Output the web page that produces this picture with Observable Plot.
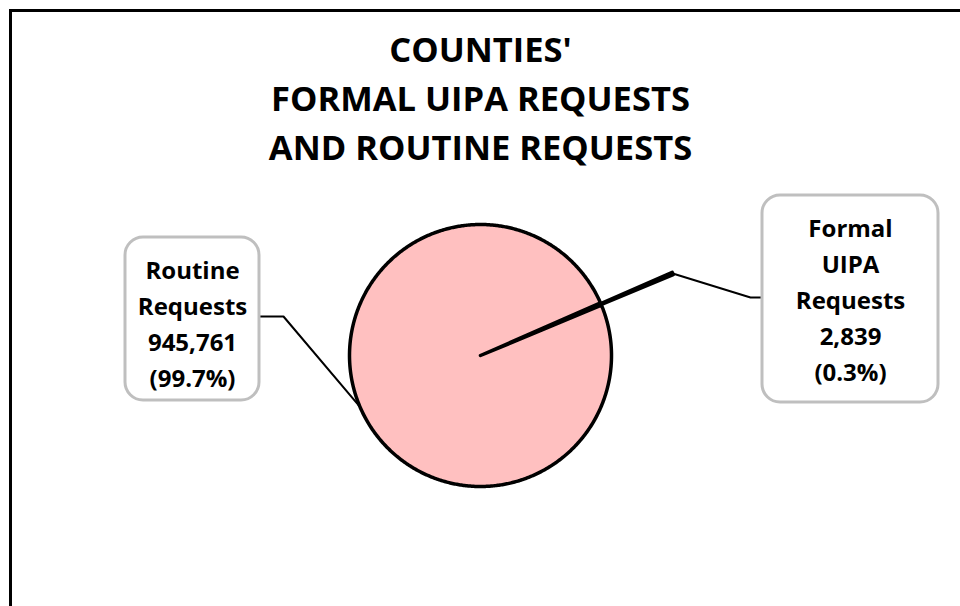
<!DOCTYPE html>
<html><head><meta charset="utf-8">
<script src="https://cdn.jsdelivr.net/npm/d3@7"></script>
<script src="https://cdn.jsdelivr.net/npm/@observablehq/plot@0.6"></script>
<style>html,body{margin:0;padding:0;background:#fff;overflow:hidden}</style>
</head><body><div id="chart"></div>
<script>
// ---- data ----
const titleLines = ["COUNTIES'", "FORMAL UIPA REQUESTS", "AND ROUTINE REQUESTS"];
const categories = ["Formal UIPA Requests", "Routine Requests"];
const labelLines = [["Formal", "UIPA", "Requests"], ["Routine", "Requests"]];
const counts = [2839, 945761];

// ---- layout (pixel units, origin at pie centre, y up) ----
const W = 960, H = 606;
const cx = 480, cy = 355;
const R = 131;
const explode = [78, 0];
const smallMidDeg = 66.9;
const FONT = '"Open Sans", sans-serif';
const boxLayout = [
  {x1: 282, x2: 458, y1: -47, y2: 160, tx: 370, ty: 58, elbow: [270, 58], edge: [282, 58]},
  {x1: -355, x2: -221, y1: -45, y2: 118, tx: -288, ty: 34, elbow: [-197, 39], edge: [-221, 39]}
];

const total = d3.sum(counts);
const fmtN = d3.format(",");
const fmtP = d3.format(".1%");
const halfSmall = Math.PI * counts[0] / total;
const start = smallMidDeg * Math.PI / 180 - halfSmall;
const arcs = d3.pie().sort(null).value(d => d).startAngle(start).endAngle(start + 2 * Math.PI)(counts);

const polys = [];
const leaders = [];
arcs.forEach((a, i) => {
  const m = (a.startAngle + a.endAngle) / 2;
  const ox = explode[i] * Math.sin(m), oy = explode[i] * Math.cos(m);
  polys.push({x: ox, y: oy, i});
  const n = Math.max(4, Math.ceil((a.endAngle - a.startAngle) / (Math.PI / 360)));
  for (let k = 0; k <= n; k++) {
    const t = a.startAngle + (a.endAngle - a.startAngle) * k / n;
    polys.push({x: ox + R * Math.sin(t), y: oy + R * Math.cos(t), i});
  }
  const b = boxLayout[i];
  leaders.push({x: ox + R * Math.sin(m), y: oy + R * Math.cos(m), i});
  leaders.push({x: b.elbow[0], y: b.elbow[1], i});
  leaders.push({x: b.edge[0], y: b.edge[1], i});
});

const labels = categories.map((c, i) => ({
  ...boxLayout[i],
  text: [...labelLines[i], fmtN(counts[i]), "(" + fmtP(counts[i] / total) + ")"].join("\n")
}));

const chart = Plot.plot({
  width: W, height: H, margin: 0,
  x: {domain: [-cx, W - cx], axis: null},
  y: {domain: [cy - H, cy], axis: null},
  style: {background: "white"},
  marks: [
    Plot.frame({stroke: "black", strokeWidth: 3, insetTop: 10, insetLeft: 10, insetRight: -20, insetBottom: -20}),
    Plot.text([titleLines.join("\n")], {x: () => 0, y: () => cy - 95, text: d => d, fontFamily: FONT, fontWeight: "bold", fontSize: 34.5, lineHeight: 1.41, lineAnchor: "middle", fill: "black"}),
    Plot.line(polys, {x: "x", y: "y", z: "i", curve: "linear-closed", fill: "#FFC0C0", stroke: "black", strokeWidth: 3.5, strokeLinejoin: "round"}),
    Plot.line(leaders, {x: "x", y: "y", z: "i", stroke: "black", strokeWidth: 2}),
    Plot.rect(labels, {x1: "x1", x2: "x2", y1: "y1", y2: "y2", rx: 18, fill: "white", stroke: "#BFBFBF", strokeWidth: 3}),
    Plot.text(labels, {x: "tx", y: "ty", text: "text", fontFamily: FONT, fontWeight: "bold", fontSize: 24, lineHeight: 1.5, lineAnchor: "middle", fill: "black"})
  ]
});
document.getElementById("chart").appendChild(chart);
</script>
</body></html>
